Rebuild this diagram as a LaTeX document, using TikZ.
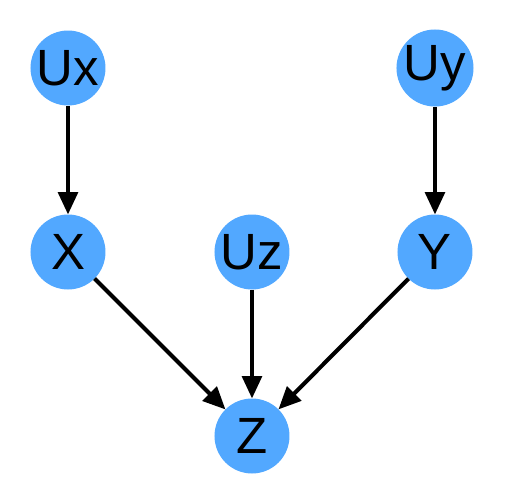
\documentclass[tikz,border=0pt]{standalone}
\usepackage{fontspec}
\setmainfont{Liberation Sans}
\usetikzlibrary{arrows.meta}
\definecolor{nodeblue}{RGB}{82,168,255}
\tikzset{
  var/.style={circle, fill=nodeblue, minimum size=0.75cm, inner sep=0pt, outer sep=0pt, font=\fontsize{14.5}{17}\selectfont},
  edge/.style={line width=1.15pt, -{Triangle[width=5.6pt,length=6.4pt]}}
}
\begin{document}
\begin{tikzpicture}
  \useasboundingbox (0,0) rectangle (5.04,5.04);
  % exogenous
  \node[var] (ux) at (0.68,4.36) {Ux};
  \node[var] (uy) at (4.35,4.36) {Uy};
  \node[var] (uz) at (2.52,2.52) {Uz};
  % endogenous
  \node[var] (x) at (0.68,2.52) {X};
  \node[var] (y) at (4.35,2.52) {Y};
  \node[var] (z) at (2.52,0.68) {Z};
  % edges
  \draw[edge] (ux) -- (x);
  \draw[edge] (uy) -- (y);
  \draw[edge] (x) -- (z);
  \draw[edge] (uz) -- (z);
  \draw[edge] (y) -- (z);
\end{tikzpicture}
\end{document}
